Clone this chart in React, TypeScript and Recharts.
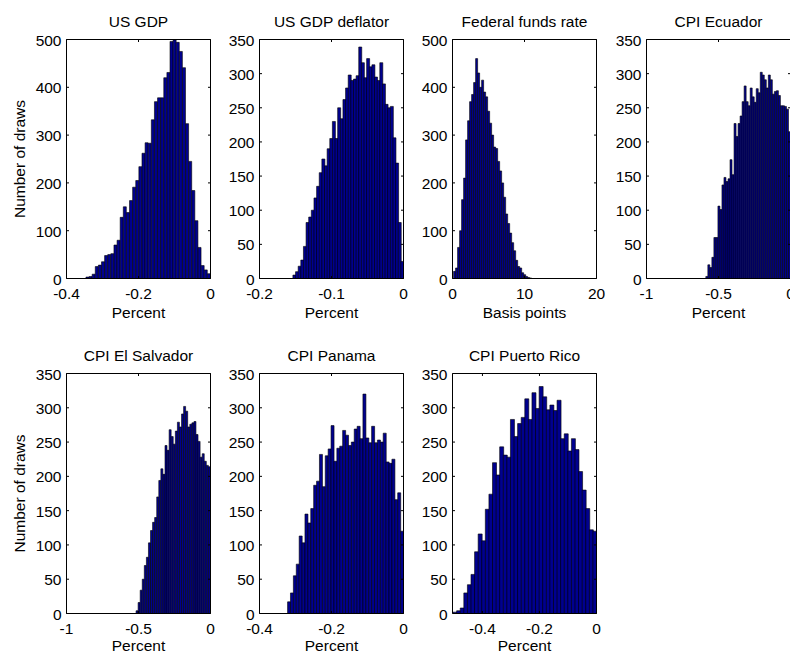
import React from "react";
import { Bar, BarChart, ReferenceLine, XAxis, YAxis } from "recharts";

const FONT = "'Liberation Sans', Arial, Helvetica, sans-serif";
const FS = 15.5;
const TICK_LEN = 2.5;
const BAR_FILL = "#00008f";

// layout of the 2x4 grid of axes (pixels)
const PLOT_W = 144;
const ROW_TOP = [39, 373];
const ROW_H = [239, 240];
const COL_LEFT = [66, 259, 452, 646];
const LABEL_OFFSET = [5.5, 7.5];

// texts
const titles = [
  "US GDP",
  "US GDP deflator",
  "Federal funds rate",
  "CPI Ecuador",
  "CPI El Salvador",
  "CPI Panama",
  "CPI Puerto Rico",
];
const xLabels = ["Percent", "Percent", "Basis points", "Percent", "Percent", "Percent", "Percent"];

// histogram counts (number of draws per bin)
const usGdp = [3, 4, 9, 25, 28, 35, 48, 50, 52, 70, 80, 128, 150, 138, 163, 191, 205, 234, 262, 284, 283, 332, 370, 378, 378, 420, 431, 496, 499, 494, 475, 441, 324, 245, 184, 121, 65, 27, 18, 10];
const usDeflator = [5, 10, 18, 27, 47, 82, 90, 100, 118, 135, 155, 175, 165, 190, 205, 230, 205, 250, 234, 262, 279, 298, 290, 292, 297, 339, 316, 294, 322, 310, 313, 295, 290, 316, 285, 255, 250, 252, 206, 169, 82, 25];
const fedFunds = [15, 22, 65, 100, 165, 210, 290, 330, 370, 385, 410, 460, 430, 400, 415, 390, 380, 350, 325, 300, 275, 272, 245, 225, 200, 170, 135, 115, 95, 75, 58, 38, 25, 22, 12, 8, 4, 2, 1];
const cpiEcuador = [3, 20, 16, 31, 60, 60, 106, 101, 137, 148, 142, 146, 174, 152, 227, 208, 227, 238, 259, 282, 259, 253, 279, 266, 258, 278, 272, 302, 298, 291, 279, 298, 291, 270, 274, 275, 268, 253, 253, 252, 248, 215];
const cpiElSalvador = [4, 16, 34, 50, 70, 82, 103, 121, 133, 140, 170, 194, 211, 203, 245, 238, 268, 258, 247, 266, 279, 272, 291, 302, 295, 272, 276, 278, 280, 261, 251, 228, 233, 222, 216, 214];
const cpiPanama = [17, 30, 55, 72, 113, 103, 145, 132, 153, 187, 193, 232, 185, 230, 240, 274, 222, 241, 244, 267, 260, 245, 250, 269, 273, 255, 320, 256, 249, 273, 249, 253, 250, 263, 221, 219, 225, 166, 176, 120];
const cpiPuertoRico = [2, 4, 8, 30, 42, 57, 90, 116, 106, 152, 174, 220, 202, 243, 231, 228, 283, 258, 277, 286, 313, 283, 322, 299, 331, 316, 297, 304, 296, 311, 255, 262, 237, 255, 239, 207, 180, 153, 122, 120];

const counts = [usGdp, usDeflator, fedFunds, cpiEcuador, cpiElSalvador, cpiPanama, cpiPuertoRico];

// first bin edge / last bin edge of each histogram
const binRanges: [number, number][] = [
  [-0.346, 0],
  [-0.1536, 0],
  [0.15, 11.0],
  [-0.588, 0],
  [-0.517, 0],
  [-0.322, 0],
  [-0.503, 0],
];

// axes
const xDomains: [number, number][] = [
  [-0.4, 0],
  [-0.2, 0],
  [0, 20],
  [-1, 0],
  [-1, 0],
  [-0.4, 0],
  [-0.505, 0],
];
const xTicks = [
  [-0.4, -0.2, 0],
  [-0.2, -0.1, 0],
  [0, 10, 20],
  [-1, -0.5, 0],
  [-1, -0.5, 0],
  [-0.4, -0.2, 0],
  [-0.4, -0.2, 0],
];
const yTicks500 = [0, 100, 200, 300, 400, 500];
const yTicks350 = [0, 50, 100, 150, 200, 250, 300, 350];
const yTicks = [yTicks500, yTicks350, yTicks500, yTicks350, yTicks350, yTicks350, yTicks350];

function XTick(props: any) {
  const { x, y, payload, plotH } = props;
  return (
    <g>
      <line x1={x} y1={y} x2={x} y2={y - TICK_LEN} stroke="#000" />
      <line x1={x} y1={y - plotH} x2={x} y2={y - plotH + TICK_LEN} stroke="#000" />
      <text x={x} y={y + 20.5} textAnchor="middle" fontSize={FS} fontFamily={FONT} fill="#000">
        {String(payload.value)}
      </text>
    </g>
  );
}

function YTick(props: any) {
  const { x, y, payload, plotW } = props;
  return (
    <g>
      <line x1={x} y1={y} x2={x + TICK_LEN} y2={y} stroke="#000" />
      <line x1={x + plotW} y1={y} x2={x + plotW - TICK_LEN} y2={y} stroke="#000" />
      <text x={x - 5} y={y + 6} textAnchor="end" fontSize={FS} fontFamily={FONT} fill="#000">
        {String(payload.value)}
      </text>
    </g>
  );
}

function Histogram({ idx }: { idx: number }) {
  const row = idx < 4 ? 0 : 1;
  const col = idx < 4 ? idx : idx - 4;
  const plotH = ROW_H[row];
  const [lo, hi] = binRanges[idx];
  const n = counts[idx].length;
  const w = (hi - lo) / n;
  const data = counts[idx].map((c, i) => ({ x: lo + (i + 0.5) * w, n: c }));
  const yMax = yTicks[idx][yTicks[idx].length - 1];

  return (
    <div style={{ position: "absolute", left: COL_LEFT[col] - 60, top: ROW_TOP[row] - 30 }}>
      <BarChart
        width={215}
        height={30.5 + plotH + 45 + 0.5}
        data={data}
        margin={{ top: 30.5, right: 10.5, bottom: 0.5, left: 0.5 }}
        barCategoryGap={0}
        barGap={0}
      >
        <XAxis
          dataKey="x"
          type="number"
          domain={xDomains[idx]}
          allowDataOverflow
          ticks={xTicks[idx]}
          interval={0}
          height={45}
          tickSize={0}
          tickMargin={0}
          tickLine={false}
          axisLine={{ stroke: "#000" }}
          tick={(p: any) => <XTick {...p} plotH={plotH} />}
          label={{
            value: xLabels[idx],
            position: "insideBottom",
            offset: LABEL_OFFSET[row],
            style: { fontSize: FS, fontFamily: FONT, fill: "#000" },
          }}
        />
        <YAxis
          type="number"
          domain={[0, yMax]}
          allowDataOverflow
          ticks={yTicks[idx]}
          interval={0}
          width={60}
          tickSize={0}
          tickMargin={0}
          tickLine={false}
          axisLine={{ stroke: "#000" }}
          tick={(p: any) => <YTick {...p} plotW={PLOT_W} />}
          label={
            col === 0
              ? {
                  value: "Number of draws",
                  angle: -90,
                  position: "insideLeft",
                  offset: 12.5,
                  style: { textAnchor: "middle", fontSize: FS, fontFamily: FONT, fill: "#000" },
                }
              : undefined
          }
        />
        <Bar dataKey="n" fill={BAR_FILL} stroke="#000" strokeWidth={0.6} isAnimationActive={false} />
        <ReferenceLine y={yMax} stroke="#000" />
        <ReferenceLine x={xDomains[idx][1]} stroke="#000" />
      </BarChart>
    </div>
  );
}

export default function App() {
  return (
    <div
      style={{
        position: "absolute",
        left: 0,
        top: 0,
        width: 790,
        height: 652,
        overflow: "hidden",
        background: "#fff",
      }}
    >
      {titles.map((_, i) => (
        <Histogram key={i} idx={i} />
      ))}
      <svg width={790} height={652} style={{ position: "absolute", left: 0, top: 0, pointerEvents: "none" }}>
        {titles.map((t, i) => {
          const row = i < 4 ? 0 : 1;
          const col = i < 4 ? i : i - 4;
          return (
            <text
              key={t}
              x={COL_LEFT[col] + 0.5 + PLOT_W / 2}
              y={ROW_TOP[row] - 12.5}
              textAnchor="middle"
              fontSize={FS}
              fontFamily={FONT}
              fill="#000"
            >
              {t}
            </text>
          );
        })}
      </svg>
    </div>
  );
}
